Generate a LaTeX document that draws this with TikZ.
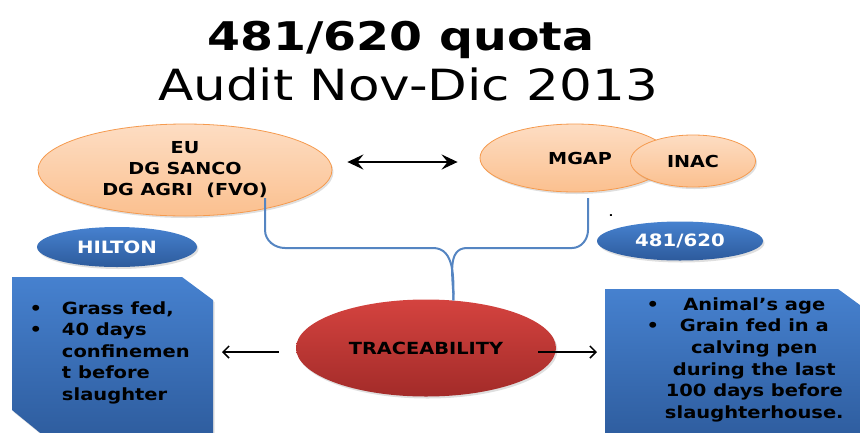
\documentclass[tikz,border=0pt]{standalone}
\usepackage{fontspec}
\setmainfont[FakeStretch=1.16]{DejaVu Sans}
\newfontfamily\titlefont[FakeStretch=1.2]{DejaVu Sans}
\usetikzlibrary{shapes.geometric, shadows, arrows.meta, calc}

\definecolor{peachtop}{HTML}{FDDDC3}
\definecolor{peachbot}{HTML}{FBC08F}
\definecolor{peachline}{HTML}{F59A4E}
\definecolor{bluetop}{HTML}{4681CF}
\definecolor{bluebot}{HTML}{2D5B9C}
\definecolor{redtop}{HTML}{D4433F}
\definecolor{redbot}{HTML}{A32B29}
\definecolor{linkblue}{HTML}{5585C2}

\begin{document}
\begin{tikzpicture}[x=1pt, y=-1pt,
    soft shadow/.style={drop shadow={opacity=0.25, shadow xshift=1.5pt, shadow yshift=-2pt}},
    orgbubble/.style={ellipse, draw=peachline, line width=0.8pt, top color=peachtop, bottom color=peachbot,
        inner sep=0pt, align=center, font=\bfseries\fontsize{16.5}{21}\selectfont, soft shadow},
    tagbubble/.style={ellipse, top color=bluetop, bottom color=bluebot, text=white, inner sep=0pt,
        font=\bfseries\fontsize{17}{18}\selectfont, soft shadow},
    core/.style={ellipse, top color=redtop, bottom color=redbot, inner sep=0pt,
        font=\bfseries\fontsize{16.7}{18}\selectfont, soft shadow},
    infobox/.style={top color=bluetop, bottom color=bluebot, soft shadow},
    boxtext/.style={font=\bfseries\fontsize{16.8}{21.6}\selectfont},
    link/.style={linkblue, line width=2pt},
    arr/.style={line width=1.5pt, -{Straight Barb[length=6pt, width=12pt]}}
]
    \useasboundingbox (0,0) rectangle (860,432);

    % --- titles ---
    \node[font=\titlefont\bfseries\fontsize{39.5}{40}\selectfont, anchor=base] (title) at (401,50) {481/620 quota};
    \node[font=\titlefont\fontsize{43}{44}\selectfont, anchor=base] (subtitle) at (408,100) {Audit Nov-Dic 2013};

    % --- side boxes (cut off at the bottom) ---
    \path[infobox] (12,277) -- (182,277) -- (213,300) -- (213,445) -- (55,445) -- (12,410) -- cycle;
    \path[infobox] (605,289) -- (838,289) -- (875,316) -- (875,445) -- (605,445) -- cycle;
    \coordinate (leftend) at (222,352);
    \coordinate (rightend) at (597,352);

    % --- authorities ---
    \node[orgbubble, minimum width=294pt, minimum height=92pt] (eu) at (185,170) {EU\\DG SANCO\\DG AGRI~~(FVO)};
    \node[orgbubble, minimum width=190pt, minimum height=68pt] (mgap) at (575,158) {\hspace*{10pt}MGAP};
    \node[orgbubble, minimum width=125pt, minimum height=52pt] (inac) at (693,161) {INAC};

    \draw[line width=2.6pt, {Stealth[length=16pt, width=15pt, inset=6pt]}-{Stealth[length=16pt, width=15pt, inset=6pt]}]
        ($(eu.east)+(15,-8)$) -- ($(mgap.west)+(-22,4)$);

    % --- quota tags ---
    \node[tagbubble, minimum width=160pt, minimum height=40pt] (hilton) at (117,247) {HILTON};
    \node[tagbubble, minimum width=166pt, minimum height=39pt] (quota) at (680,241) {481/620};
    \node[font=\bfseries\fontsize{10}{10}\selectfont] (dot) at (611,216) {.};

    % --- traceability ---
    \node[core, minimum width=260pt, minimum height=97pt] (trace) at (426,348) {TRACEABILITY};

    \coordinate (euend) at ($(eu.center)+(80,28)$);
    \coordinate (mgapend) at ($(mgap.center)+(13,40)$);
    \draw[link] (euend) -- ++(0,32) to[out=-90, in=180] ++(20,18) -- ++(148,0) to[out=0, in=90] (trace.60);
    \draw[link] (mgapend) -- ++(0,32) to[out=-90, in=0] ++(-16,18) -- ++(-105,0) to[out=180, in=90] (trace.60);

    \draw[arr] ($(trace.west)+(-17,4)$) -- (leftend);
    \draw[arr] ($(trace.east)+(-18,4)$) -- (rightend);

    % --- box texts ---
    \node[boxtext, anchor=west] (hiltonnote) at (26,353) {\begin{tabular}{@{}l@{\hspace{20pt}}l@{}}
        \textbullet & Grass fed,\\
        \textbullet & 40 days\\
         & confinemen\\
         & t before\\
         & slaughter
    \end{tabular}};
    \node[boxtext, anchor=west] (quotanote) at (643,360) {\begin{tabular}{@{}l@{\hspace{6pt}}c@{}}
        \textbullet & Animal’s age\\
        \textbullet & Grain fed in a\\
         & calving pen\\
         & during the last\\
         & 100 days before\\
         & slaughterhouse.
    \end{tabular}};

\end{tikzpicture}
\end{document}
